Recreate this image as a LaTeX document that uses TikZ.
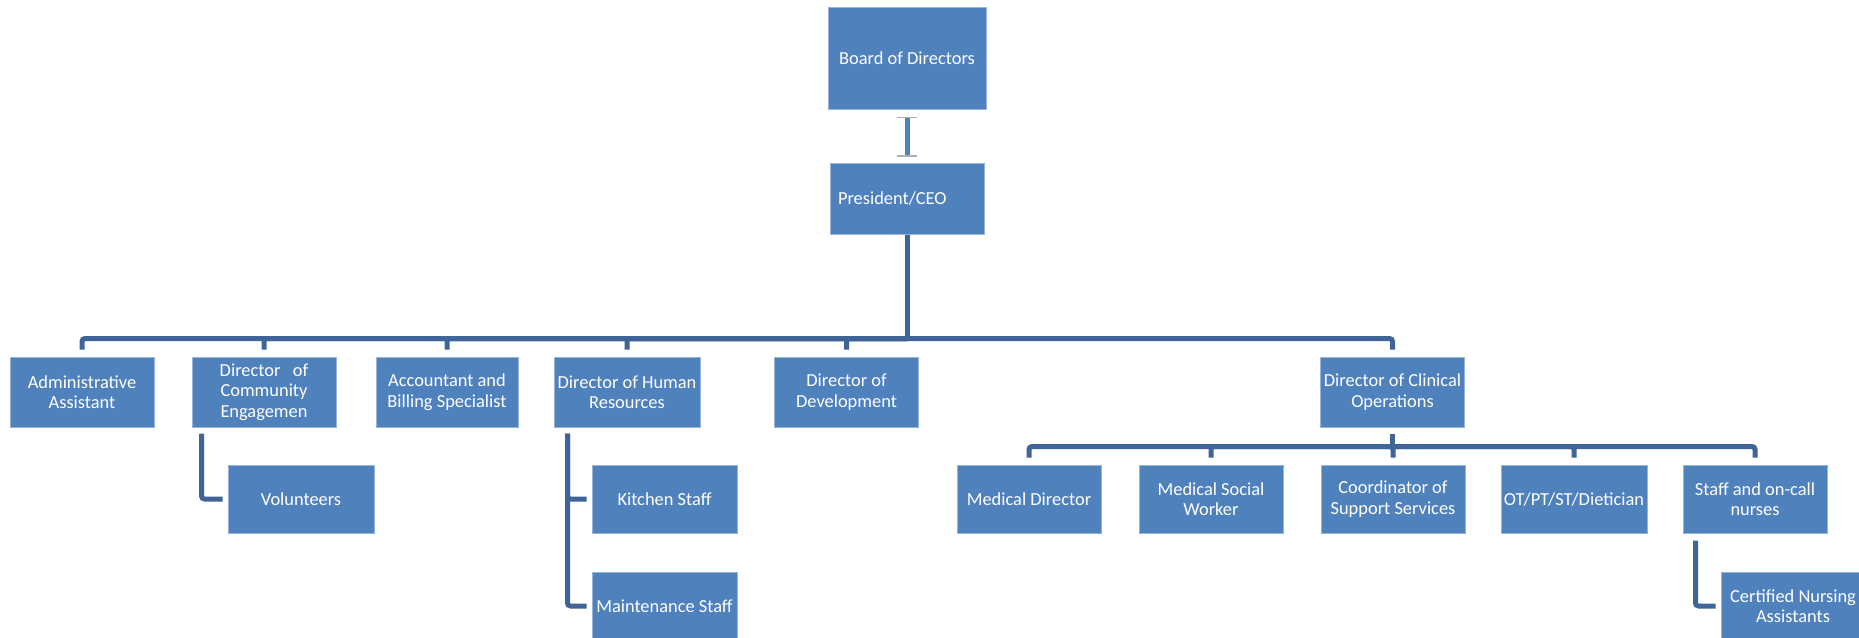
\documentclass[tikz,border=0pt]{standalone}
\usepackage{fontspec}
\setmainfont{Carlito}
\usetikzlibrary{arrows.meta}
\definecolor{unitblue}{RGB}{79,129,189}
\definecolor{unitrim}{RGB}{150,180,218}
\definecolor{linkblue}{RGB}{62,100,152}
\definecolor{capgray}{RGB}{170,175,185}

\begin{document}
\begin{tikzpicture}%
        [x=1pt, y=-1pt,
        unit/.style={rectangle, fill=unitblue, draw=unitrim, line width=1pt, text=white,
                     align=center, inner sep=2pt, minimum width=144pt, minimum height=70pt,
                     font=\fontsize{18.4}{20.4}\selectfont},
        subunit/.style={unit, minimum height=68pt},
        link/.style={draw=linkblue, line width=5pt, rounded corners=3pt},
        capbar/.tip={Bar[width=20pt, line width=1.2pt, color=capgray]}]

    \clip (0,0) rectangle (1859,637);

    %% Drawing the top of the chart
    \node[unit, minimum width=158pt, minimum height=102pt] (board) at (907,58) {Board of Directors};
    \node[unit, minimum width=154pt, minimum height=71pt, text width=138pt, align=left, inner xsep=8pt] (ceo) at (907,198.5) {President/CEO};

    %%
    %% Drawing the directors
    %%
    \node[unit] (admin) at (82,392) {Administrative\\Assistant};
    \node[unit] (commdir) at (264,392) {Director~~~of\\Community\\Engagemen};
    \node[unit, minimum width=142pt] (acct) at (447,392) {Accountant and\\Billing Specialist};
    \node[unit, minimum width=146pt] (hrdir) at (627,392) {Director of Human\\Resources};
    \node[unit] (devdir) at (846.5,392) {Director of\\Development};
    \node[unit] (clindir) at (1392.5,392) {Director of Clinical\\Operations};

    %%
    %% Drawing the staff
    %%
    \node[subunit, minimum width=146pt] (vol) at (301,499) {Volunteers};
    \node[subunit, minimum width=145pt] (kitchen) at (664.5,499) {Kitchen Staff};
    \node[subunit, minimum width=145pt] (maint) at (664.5,606) {Maintenance Staff};
    \node[subunit] (meddir) at (1029,499) {Medical Director};
    \node[subunit] (socwork) at (1211,499) {Medical Social\\Worker};
    \node[subunit] (suppcoord) at (1393,499) {Coordinator of\\Support Services};
    \node[subunit, minimum width=146pt] (therapy) at (1574,499) {OT/PT/ST/Dietician};
    \node[subunit] (nurses) at (1755,499) {Staff and on-call\\nurses};
    \node[subunit] (cna) at (1793,606) {Certified Nursing\\Assistants};

    %%
    %% Drawing the connectors
    %%
    \draw[draw=unitblue, line width=5pt, capbar-capbar, shorten <=7pt, shorten >=6pt] (board) -- (ceo);

    \coordinate (hub1) at ([yshift=-104pt]ceo.south);
    \draw[link] (ceo.south) -- (hub1);
    \foreach \kid in {admin,commdir,acct,hrdir,devdir,clindir}
        \draw[link] (hub1) -| ([yshift=7pt]\kid.north);

    \coordinate (hub2) at ([yshift=-19pt]clindir.south);
    \draw[link] ([yshift=-6pt]clindir.south) -- (hub2);
    \foreach \kid in {meddir,socwork,suppcoord,therapy,nurses}
        \draw[link] (hub2) -| ([yshift=7pt]\kid.north);

    \draw[link] ([xshift=10pt,yshift=-6pt]commdir.south west) |- ([xshift=-5pt]vol.west);
    \foreach \kid in {kitchen,maint}
        \draw[link] ([xshift=14pt,yshift=-6pt]hrdir.south west) |- ([xshift=-5pt]\kid.west);
    \draw[link] ([xshift=13pt,yshift=-7pt]nurses.south west) |- ([xshift=-5pt]cna.west);
\end{tikzpicture}
\end{document}
